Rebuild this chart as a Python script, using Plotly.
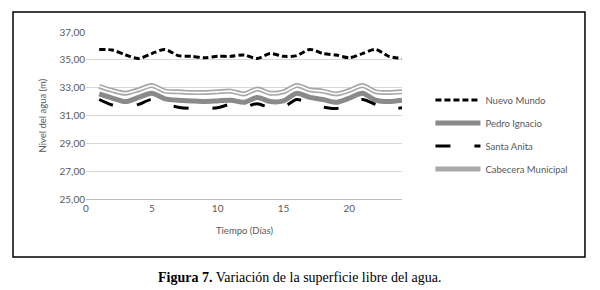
import plotly.graph_objects as go

days = list(range(1, 25))
nuevo_mundo = [35.75, 35.7, 35.35, 35.1, 35.45, 35.75, 35.3, 35.25, 35.15, 35.25, 35.25, 35.35,
               35.1, 35.45, 35.25, 35.3, 35.75, 35.45, 35.35, 35.15, 35.45, 35.75, 35.25, 35.1]
pedro_ignacio = [32.55, 32.25, 32.0, 32.3, 32.6, 32.2, 32.1, 32.05, 32.0, 32.05, 32.1, 31.95,
                 32.3, 32.0, 32.05, 32.6, 32.3, 32.15, 31.95, 32.25, 32.6, 32.1, 32.0, 32.1]
santa_anita = [32.15, 31.75, 31.6, 31.8, 32.15, 31.8, 31.6, 31.5, 31.5, 31.55, 31.8, 31.6,
               31.85, 31.55, 31.6, 32.15, 31.85, 31.6, 31.5, 31.8, 32.15, 31.8, 31.5, 31.55]
cabecera = [33.1, 32.8, 32.6, 32.85, 33.15, 32.75, 32.7, 32.65, 32.65, 32.7, 32.75, 32.55,
            32.9, 32.6, 32.7, 33.15, 32.85, 32.75, 32.55, 32.8, 33.15, 32.7, 32.65, 32.7]
y_ticks = [25, 27, 29, 31, 33, 35, 37]
x_ticks = [0, 5, 10, 15, 20]

FONT = "Lato, 'Open Sans', sans-serif"
GREY_TXT = "#595959"

fig = go.Figure()
fig.add_trace(go.Scatter(x=days, y=nuevo_mundo, mode="lines", name="Nuevo Mundo",
                         line=dict(color="black", width=3, dash="6px,3px", shape="spline", smoothing=0.8),
                         legendgroup="a"))
fig.add_trace(go.Scatter(x=days, y=pedro_ignacio, mode="lines", name="Pedro Ignacio",
                         line=dict(color="#8a8a8a", width=5, shape="spline", smoothing=0.8),
                         legendgroup="b"))
fig.add_trace(go.Scatter(x=days, y=santa_anita, mode="lines", name="Santa Anita",
                         line=dict(color="black", width=3, dash="15px,24px", shape="spline", smoothing=0.8),
                         legendgroup="c"))
fig.add_trace(go.Scatter(x=days, y=cabecera, mode="lines", name="Cabecera Municipal",
                         line=dict(color="#a8a8a8", width=5, shape="spline", smoothing=0.8),
                         legendgroup="d"))
fig.add_trace(go.Scatter(x=days, y=cabecera, mode="lines", name="Cabecera Municipal",
                         line=dict(color="white", width=1.6, shape="spline", smoothing=0.8),
                         legendgroup="d", showlegend=False))

fig.update_layout(
    width=600, height=290,
    margin=dict(l=86, r=198, t=32, b=91),
    paper_bgcolor="white", plot_bgcolor="white",
    font=dict(family=FONT, size=10, color=GREY_TXT),
    separators=",.",
    showlegend=True,
    legend=dict(x=1.09, y=0.68, xanchor="left", yanchor="top", itemwidth=45,
                font=dict(family=FONT, size=9.5, color=GREY_TXT),
                tracegroupgap=4, bgcolor="rgba(0,0,0,0)"),
    xaxis=dict(range=[0, 24], tickvals=x_ticks, showgrid=False, zeroline=False,
               showline=True, linecolor="#bfbfbf", linewidth=1, ticks="",
               tickfont=dict(size=10, color=GREY_TXT)),
    yaxis=dict(range=[25, 37], tickvals=y_ticks, tickformat=".2f", showgrid=True,
               gridcolor="#d9d9d9", gridwidth=1, zeroline=False, showline=False, ticks="",
               tickfont=dict(size=10, color=GREY_TXT)),
    shapes=[dict(type="rect", xref="paper", yref="paper", x0=-0.231, x1=1.579, y0=-0.347, y1=1.12,
                 line=dict(color="black", width=1.5), fillcolor="rgba(0,0,0,0)", layer="below")],
    annotations=[
        dict(text="Tiempo (Días)", xref="paper", yref="paper", x=0.5, y=-0.186,
             showarrow=False, font=dict(size=9.5, color=GREY_TXT), yanchor="middle"),
        dict(text="Nivel del agua (m)", xref="paper", yref="paper", x=-0.16, y=0.5,
             textangle=-90, showarrow=False, font=dict(size=9.5, color=GREY_TXT)),
        dict(text="<b>Figura 7.</b> Variación de la superficie libre del agua.",
             xref="paper", yref="paper", x=(300 - 86) / 316, y=-0.473, xanchor="center",
             yanchor="middle", showarrow=False,
             font=dict(family="'Liberation Serif', 'Times New Roman', serif", size=14, color="black")),
    ],
)

fig.write_html("out.html", config={"displayModeBar": False},
               post_script="document.body.style.margin='0';document.body.style.overflow='hidden';")
